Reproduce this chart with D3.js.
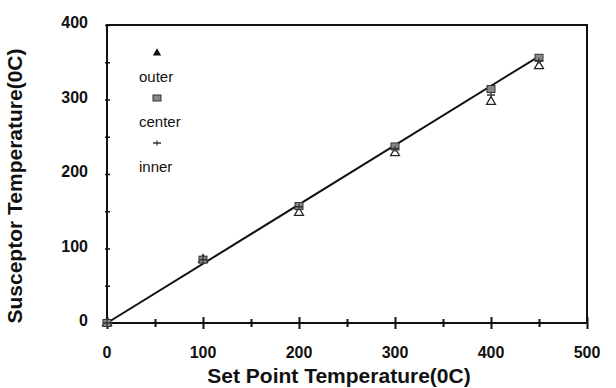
<!DOCTYPE html>
<html>
<head>
<meta charset="utf-8">
<script src="https://cdn.jsdelivr.net/npm/d3@7"></script>
<style>
  body { margin: 0; background: #fff; }
  text { font-family: "Liberation Sans", Arial, sans-serif; font-weight: bold; fill: #111; }
</style>
</head>
<body>
<div id="chart-area"></div>
<script>
// data
const setPoints = [0, 100, 200, 300, 400, 450]
const outer  = [0, 85, 148, 228, 297, 345]
const center = [0, 85, 157, 237, 314, 356]
const inner  = [0, 85, 156, 234, 306, 352]
const fitLine = [[0, 0], [450, 358]]
const xTicks = [0, 100, 200, 300, 400, 500]
const yTicks = [0, 100, 200, 300, 400]

const margin = {top: 25, right: 29, bottom: 65, left: 107},
      width = 616 - margin.left - margin.right,
      height = 388 - margin.top - margin.bottom;

const svg = d3.select("#chart-area")
  .append("svg")
    .attr("width", width + margin.left + margin.right)
    .attr("height", height + margin.top + margin.bottom)
  .append("g")
    .attr("transform", `translate(${margin.left},${margin.top})`);

const x = d3.scaleLinear().domain([0, 500]).range([0, width])
const y = d3.scaleLinear().domain([0, 400]).range([height, 0])

// frame
svg.append("rect")
  .attr("width", width).attr("height", height)
  .attr("fill", "none").attr("stroke", "#111").attr("stroke-width", 2)

// x axis: ticks every 50 crossing the line
const xaxis = svg.append("g").attr("transform", `translate(0, ${height})`)
  .call(d3.axisBottom(x).tickValues(d3.range(0, 501, 50)).tickSize(0).tickFormat(""))
xaxis.select(".domain").remove()
xaxis.selectAll(".tick line")
  .attr("y1", d => d % 100 === 0 ? -6 : -4)
  .attr("y2", d => d % 100 === 0 ? 6 : 4)
  .attr("stroke", "#111").attr("stroke-width", 2)
svg.append("g").selectAll("text")
  .data(xTicks).join("text")
    .attr("x", d => x(d))
    .attr("y", height + 35)
    .attr("text-anchor", "middle")
    .style("font-size", "16px")
    .text(d => d)

// y axis ticks
const yaxis = svg.append("g")
  .call(d3.axisLeft(y).tickValues(d3.range(0, 401, 50)).tickSize(0).tickFormat(""))
yaxis.select(".domain").remove()
yaxis.selectAll(".tick line")
  .attr("x1", -2).attr("x2", 3)
  .attr("stroke", "#111").attr("stroke-width", 1.5)
svg.append("g").selectAll("text")
  .data(yTicks).join("text")
    .attr("x", -19)
    .attr("y", d => y(d) + 3)
    .attr("text-anchor", "end")
    .style("font-size", "16px")
    .text(d => d)

// axis titles
svg.append("text")
  .attr("x", width / 2 - 8).attr("y", height + 60)
  .attr("text-anchor", "middle")
  .style("font-size", "21px")
  .text("Set Point Temperature(0C)")
svg.append("text")
  .attr("transform", `translate(${-85}, ${height / 2 + 12}) rotate(-90)`)
  .attr("text-anchor", "middle")
  .style("font-size", "21px")
  .text("Susceptor Temperature(0C)")

// fitted line
svg.append("path")
  .datum(fitLine)
  .attr("d", d3.line().x(d => x(d[0])).y(d => y(d[1])))
  .attr("fill", "none").attr("stroke", "#111").attr("stroke-width", 2)

// markers
const tri = d3.symbol().type(d3.symbolTriangle).size(34)
svg.append("g").selectAll("path")
  .data(setPoints.map((d, i) => [d, outer[i]])).join("path")
    .attr("d", tri)
    .attr("transform", d => `translate(${x(d[0])},${y(d[1])})`)
    .attr("fill", "#fff").attr("stroke", "#222").attr("stroke-width", 1.3)

svg.append("g").selectAll("rect")
  .data(setPoints.map((d, i) => [d, center[i]])).join("rect")
    .attr("x", d => x(d[0]) - 4).attr("y", d => y(d[1]) - 3.5)
    .attr("width", 8).attr("height", 7)
    .attr("fill", "#888").attr("stroke", "#333").attr("stroke-width", 1)

const innerG = svg.append("g").selectAll("g")
  .data(setPoints.map((d, i) => [d, inner[i]])).join("g")
    .attr("transform", d => `translate(${x(d[0])},${y(d[1])})`)
innerG.append("line").attr("x1", -4).attr("x2", 4)
  .attr("stroke", "#333").attr("stroke-width", 1.5)
innerG.append("line").attr("y1", -3).attr("y2", 3)
  .attr("stroke", "#333").attr("stroke-width", 1.2)

// legend
const legendNames = ["outer", "center", "inner"]
const legend = svg.append("g").attr("transform", "translate(32, 28)")
legendNames.forEach((name, i) => {
  const row = legend.append("g").attr("transform", `translate(0, ${i * 45})`)
  if (name === "outer") {
    row.append("path").attr("d", d3.symbol().type(d3.symbolTriangle).size(30))
      .attr("transform", "translate(18, 0)").attr("fill", "#111")
  } else if (name === "center") {
    row.append("rect").attr("x", 14).attr("y", -3).attr("width", 8).attr("height", 6)
      .attr("fill", "#888").attr("stroke", "#333")
  } else {
    row.append("line").attr("x1", 14).attr("x2", 22).attr("stroke", "#333").attr("stroke-width", 1.5)
    row.append("line").attr("x1", 18).attr("x2", 18).attr("y1", -2.5).attr("y2", 2.5)
      .attr("stroke", "#333").attr("stroke-width", 1.2)
  }
  row.append("text")
    .attr("x", 0).attr("y", 29)
    .style("font-weight", "normal")
    .style("font-size", "15px")
    .text(name)
})
</script>
</body>
</html>
